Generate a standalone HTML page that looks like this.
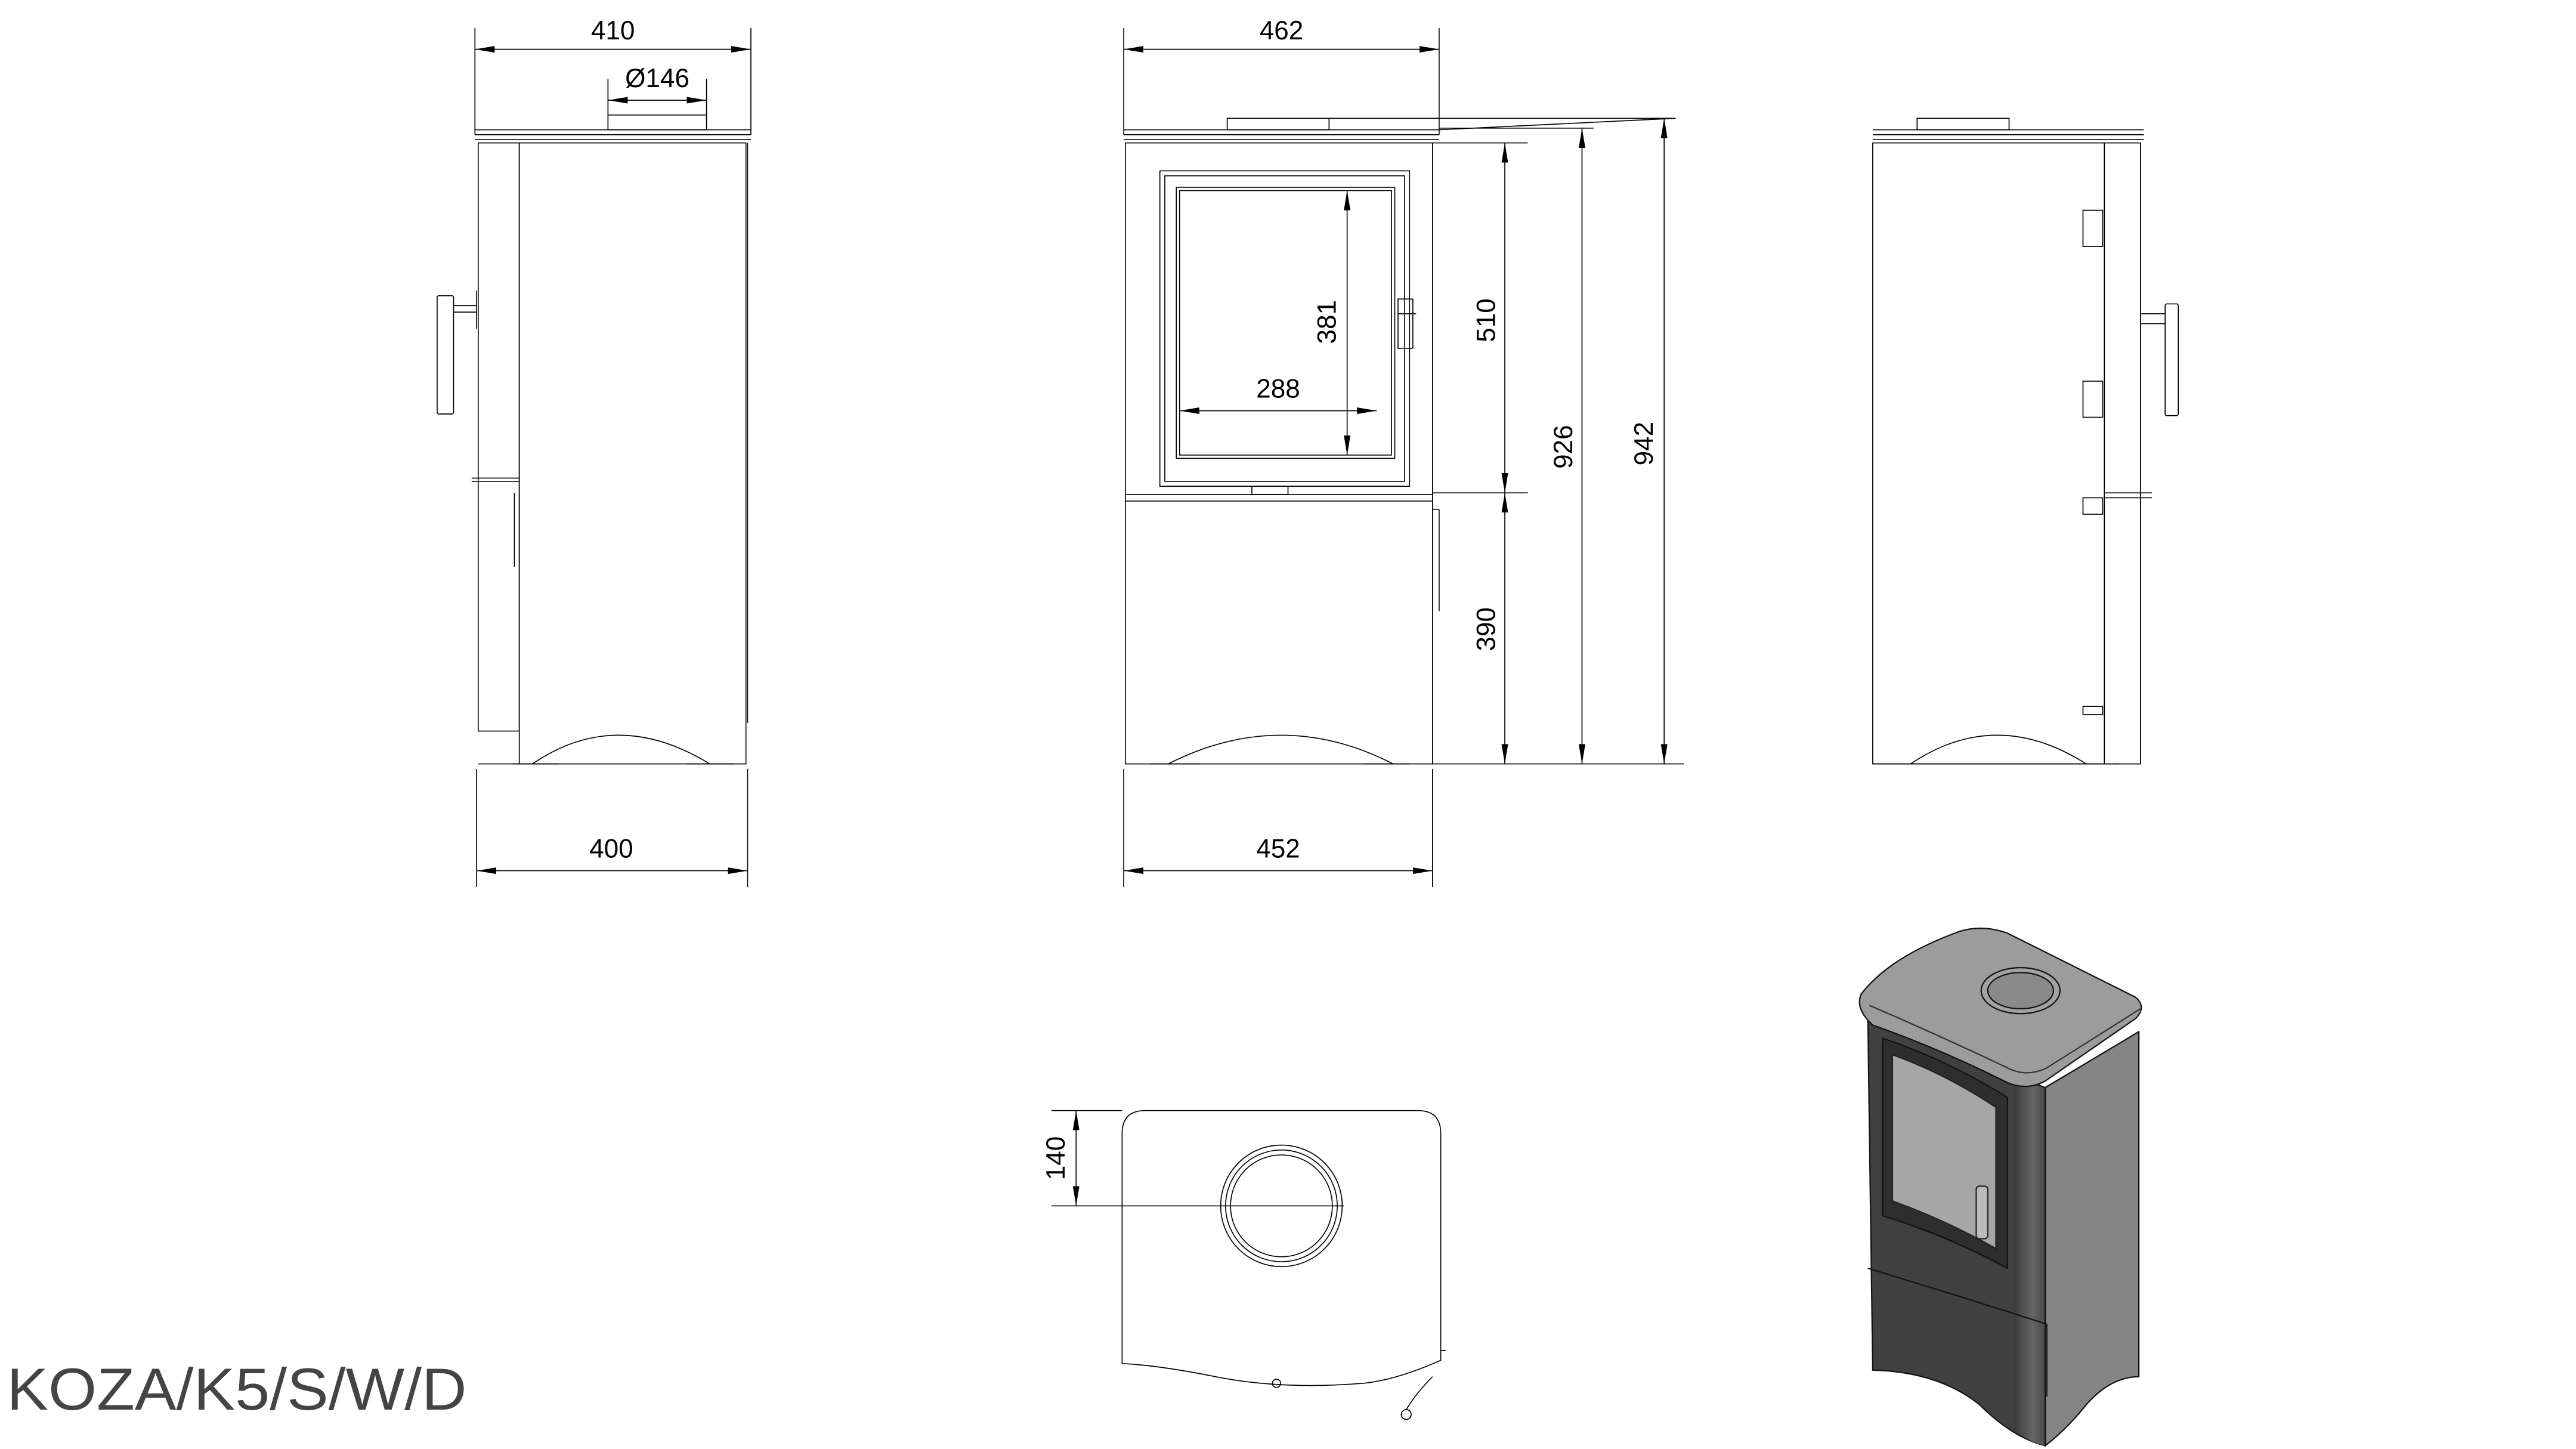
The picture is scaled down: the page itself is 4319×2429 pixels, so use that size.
<!DOCTYPE html>
<html><head><meta charset="utf-8"><style>
html,body{margin:0;padding:0;background:#fff}
svg{display:block}
text{font-family:"Liberation Sans",sans-serif;fill:#000}
</style></head><body>
<svg width="4319" height="2429" viewBox="0 0 1568 882" xmlns="http://www.w3.org/2000/svg">
<defs>
<marker id="a" viewBox="0 0 12 4" refX="12" refY="2" markerWidth="12" markerHeight="4" orient="auto-start-reverse" markerUnits="userSpaceOnUse"><path d="M0,0 L12,2 L0,4z" fill="#000"/></marker>
<linearGradient id="cg" x1="0" x2="1"><stop offset="0" stop-color="#3a3a3a"/><stop offset="0.6" stop-color="#666"/><stop offset="1" stop-color="#4a4a4a"/></linearGradient>
</defs>
<g fill="none" stroke="#000" stroke-width="0.6">
<!-- LEFT SIDE VIEW -->
<line x1="289" y1="17" x2="289" y2="82"/><line x1="457" y1="17" x2="457" y2="82"/>
<line x1="289" y1="30" x2="457" y2="30" marker-start="url(#a)" marker-end="url(#a)"/>
<line x1="370" y1="48" x2="370" y2="70"/><line x1="430" y1="48" x2="430" y2="70"/>
<line x1="370" y1="61" x2="430" y2="61" marker-start="url(#a)" marker-end="url(#a)"/>
<rect x="370" y="70" width="60" height="9"/>
<line x1="289" y1="79" x2="457" y2="79"/><line x1="289" y1="82" x2="457" y2="82"/><line x1="289" y1="85" x2="457" y2="85"/>
<rect x="291" y="87" width="25" height="358"/>
<rect x="316" y="87" width="138" height="378"/>
<line x1="455" y1="87" x2="455" y2="440"/>
<line x1="287" y1="291" x2="316" y2="291"/><line x1="287" y1="293" x2="316" y2="293"/>
<line x1="313" y1="300" x2="313" y2="345"/>
<rect x="266" y="180" width="10" height="72" rx="1"/>
<line x1="276" y1="186" x2="290" y2="186"/><line x1="276" y1="190" x2="290" y2="190"/>
<line x1="290" y1="177" x2="290" y2="200"/>
<path d="M324,465 Q375,430 432,465"/>
<line x1="291" y1="465" x2="316" y2="465"/>
<line x1="312" y1="465" x2="340" y2="465"/><line x1="418" y1="465" x2="447" y2="465"/>
<line x1="290" y1="468" x2="290" y2="540"/><line x1="455" y1="468" x2="455" y2="540"/>
<line x1="290" y1="530" x2="455" y2="530" marker-start="url(#a)" marker-end="url(#a)"/>

<!-- FRONT VIEW -->
<line x1="684" y1="17" x2="684" y2="82"/><line x1="876" y1="17" x2="876" y2="82"/>
<line x1="684" y1="30" x2="876" y2="30" marker-start="url(#a)" marker-end="url(#a)"/>
<rect x="747" y="72" width="62" height="7"/>
<line x1="684" y1="79" x2="876" y2="79"/><line x1="684" y1="82" x2="876" y2="82"/><line x1="684" y1="85" x2="876" y2="85"/>
<line x1="876" y1="79" x2="1020" y2="72" /><line x1="809" y1="72" x2="1020" y2="72"/>
<line x1="876" y1="78" x2="970" y2="78"/>
<rect x="685" y="87" width="187" height="378"/>
<rect x="706" y="104" width="152" height="192"/>
<rect x="709" y="107" width="146" height="186"/>
<rect x="716" y="114" width="133" height="165"/>
<rect x="718" y="116" width="129" height="161"/>
<rect x="851" y="182" width="9" height="30"/><line x1="851" y1="191" x2="862" y2="191"/>
<rect x="762" y="296" width="22" height="5"/>
<line x1="685" y1="301" x2="872" y2="301"/><line x1="685" y1="305" x2="872" y2="305"/>
<line x1="872" y1="310" x2="876" y2="310"/><line x1="876" y1="310" x2="876" y2="372"/>
<path d="M711,465 Q780,430 848,465"/>
<line x1="700" y1="465" x2="730" y2="465"/><line x1="830" y1="465" x2="858" y2="465"/>
<line x1="820" y1="116" x2="820" y2="277" marker-start="url(#a)" marker-end="url(#a)"/>
<line x1="718" y1="250" x2="838" y2="250" marker-start="url(#a)" marker-end="url(#a)"/>
<line x1="684" y1="468" x2="684" y2="540"/><line x1="872" y1="468" x2="872" y2="540"/>
<line x1="684" y1="530" x2="872" y2="530" marker-start="url(#a)" marker-end="url(#a)"/>
<line x1="872" y1="87" x2="930" y2="87"/><line x1="872" y1="300" x2="930" y2="300"/>
<line x1="872" y1="465" x2="1025" y2="465"/>
<line x1="916" y1="87" x2="916" y2="300" marker-start="url(#a)" marker-end="url(#a)"/>
<line x1="916" y1="300" x2="916" y2="465" marker-start="url(#a)" marker-end="url(#a)"/>
<line x1="963" y1="78" x2="963" y2="465" marker-start="url(#a)" marker-end="url(#a)"/>
<line x1="1013" y1="72" x2="1013" y2="465" marker-start="url(#a)" marker-end="url(#a)"/>

<!-- RIGHT SIDE VIEW -->
<rect x="1167" y="72" width="56" height="7"/>
<line x1="1140" y1="79" x2="1305" y2="79"/><line x1="1140" y1="82" x2="1305" y2="82"/><line x1="1140" y1="85" x2="1305" y2="85"/>
<rect x="1140" y="87" width="141" height="378"/>
<rect x="1281" y="87" width="22" height="378"/>
<line x1="1303" y1="87" x2="1303" y2="465"/>
<rect x="1268" y="128" width="12" height="22"/><rect x="1268" y="232" width="12" height="22"/>
<rect x="1268" y="303" width="12" height="10"/><rect x="1268" y="430" width="12" height="5"/>
<line x1="1281" y1="300" x2="1310" y2="300"/><line x1="1281" y1="303" x2="1310" y2="303"/>
<line x1="1303" y1="191" x2="1318" y2="191"/><line x1="1303" y1="197" x2="1318" y2="197"/>
<rect x="1318" y="185" width="8" height="68" rx="1"/>
<path d="M1163,465 Q1215,430 1270,465"/>
<line x1="1140" y1="465" x2="1290" y2="465"/>

<!-- TOP VIEW -->
<path d="M697,676 L863,676 Q877,676 877,690 L877,828 Q850,840 830,842 Q780,846 740,838 Q705,831 683,830 L683,690 Q683,676 697,676z"/>
<line x1="877" y1="822" x2="880" y2="822"/>
<circle cx="777" cy="842" r="2.5"/>
<circle cx="856" cy="861" r="3"/><path d="M856,858 Q862,848 872,838"/>
<circle cx="780" cy="734" r="37"/><circle cx="780" cy="734" r="34"/><circle cx="780" cy="734" r="31"/>
<line x1="640" y1="676" x2="683" y2="676"/><line x1="640" y1="734" x2="818" y2="734"/>
<line x1="655" y1="676" x2="655" y2="734" marker-start="url(#a)" marker-end="url(#a)"/>
</g>

<g font-size="16">
<text x="373" y="24" text-anchor="middle">410</text>
<text x="400" y="53" text-anchor="middle">Ø146</text>
<text x="372" y="522" text-anchor="middle">400</text>
<text x="780" y="24" text-anchor="middle">462</text>
<text x="778" y="522" text-anchor="middle">452</text>
<text x="778" y="242" text-anchor="middle">288</text>
<text transform="translate(813,196) rotate(-90)" text-anchor="middle">381</text>
<text transform="translate(910,195) rotate(-90)" text-anchor="middle">510</text>
<text transform="translate(910,383) rotate(-90)" text-anchor="middle">390</text>
<text transform="translate(957,272) rotate(-90)" text-anchor="middle">926</text>
<text transform="translate(1006,270) rotate(-90)" text-anchor="middle">942</text>
<text transform="translate(648,705) rotate(-90)" text-anchor="middle">140</text>
</g>
<text x="4" y="858" font-size="36" textLength="280" lengthAdjust="spacingAndGlyphs" style="fill:#444">KOZA/K5/S/W/D</text>

<!-- ISOMETRIC -->
<g stroke="#111" stroke-width="0.8">
<path d="M1245,662 L1302,628 L1302,838 Q1285,838 1270,855 Q1258,870 1245,880 Z" fill="#858585"/>
<path d="M1137,618 Q1190,640 1245,662 L1245,880 Q1225,875 1205,855 Q1180,835 1140,834 Z" fill="#404040"/>
<path d="M1226,655 Q1240,662 1245,662 L1245,880 Q1235,878 1226,870 Z" fill="url(#cg)" stroke="none"/>
<line x1="1245" y1="662" x2="1245" y2="880"/>
<path d="M1146,632 Q1185,645 1222,668 L1222,772 Q1185,752 1146,740 Z" fill="#2e2e2e"/>
<path d="M1152,642 Q1185,654 1215,674 L1215,760 Q1185,743 1152,731 Z" fill="#a6a6a6" stroke="#222"/>
<path d="M1137,772 Q1190,788 1246,806" fill="none"/>
<path d="M1246,806 L1246,850" fill="none" stroke="#222"/>
<rect x="1203" y="722" width="7" height="32" rx="2" fill="#bbb" stroke="#222"/>
<path d="M1133,605 Q1150,583 1190,568 Q1205,562 1222,568 L1300,607 Q1307,613 1300,620 L1245,658 Q1234,664 1222,659 Q1180,638 1140,624 Q1129,614 1133,605z" fill="#9c9c9c"/>
<path d="M1138,612 Q1180,630 1222,650 Q1234,656 1246,650 L1303,614" fill="none" stroke="#333"/>
<ellipse cx="1230" cy="603" rx="24" ry="14" fill="#a2a2a2"/>
<ellipse cx="1230" cy="603" rx="20" ry="11" fill="#8a8a8a"/>
</g>
</svg>
</body></html>
